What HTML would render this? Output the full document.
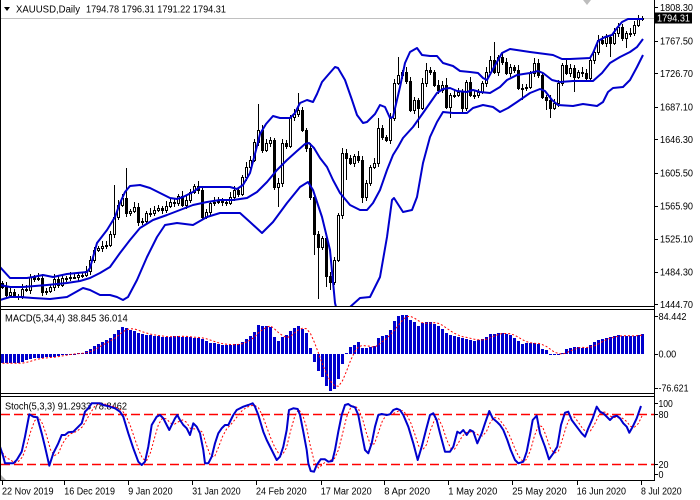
<!DOCTYPE html>
<html><head><meta charset="utf-8">
<style>
html,body{margin:0;padding:0;background:#fff;width:700px;height:500px;overflow:hidden}
svg{display:block}
text{font-family:"Liberation Sans",sans-serif;font-size:10px;fill:#000}
</style></head><body>
<svg id="c" width="700" height="500" viewBox="0 0 700 500" xmlns="http://www.w3.org/2000/svg">
<defs>
<clipPath id="cm"><rect x="1" y="0" width="653" height="306"/></clipPath>
<clipPath id="cd"><rect x="1" y="310" width="653" height="83"/></clipPath>
<clipPath id="cs"><rect x="1" y="397" width="653" height="83"/></clipPath>
</defs>
<rect x="0" y="0" width="700" height="500" fill="#fff"/>
<line x1="1" y1="18.5" x2="654" y2="18.5" stroke="#c0c0c0" stroke-width="1"/>
<polygon points="583,0 591,0 587,5" fill="#bdbdbd"/>
<polygon points="4,7 10,7 7,11" fill="#000"/>
<text x="16" y="12.5" textLength="64" lengthAdjust="spacingAndGlyphs">XAUUSD,Daily</text>
<text x="86" y="12.5" textLength="140" lengthAdjust="spacingAndGlyphs">1794.78 1796.31 1791.22 1794.31</text>
<text x="5" y="321.7" textLength="122.7" lengthAdjust="spacingAndGlyphs">MACD(5,34,4) 38.845 36.014</text>
<text x="5" y="409.3" textLength="122" lengthAdjust="spacingAndGlyphs">Stoch(5,3,3) 91.2933 78.8462</text>
<g stroke="#000" stroke-width="1" shape-rendering="crispEdges">
<line x1="0.5" y1="0" x2="0.5" y2="481"/>
<line x1="654.5" y1="0" x2="654.5" y2="481"/>
<line x1="0" y1="306.5" x2="655" y2="306.5"/>
<line x1="0" y1="309.5" x2="655" y2="309.5"/>
<line x1="0" y1="393.5" x2="655" y2="393.5"/>
<line x1="0" y1="396.5" x2="655" y2="396.5"/>
<line x1="0" y1="480.5" x2="655" y2="480.5"/>
</g>
<polygon points="1,475 1,480 6,480" fill="#b0b0b0"/>
<g stroke="#ff0000" stroke-width="1.4" stroke-dasharray="9,4" fill="none">
<line x1="1" y1="414.5" x2="654" y2="414.5"/>
<line x1="1" y1="464.5" x2="654" y2="464.5"/>
</g>
<g id="axis"></g>
<rect x="655" y="12.5" width="37" height="11" fill="#000"/>
<text x="657" y="21.7" textLength="33" lengthAdjust="spacingAndGlyphs" style="fill:#fff">1794.31</text>
<g id="g"></g>
</svg>
<script>
(function(){
var B='#0000cd';
var out='';
var X=function(i){return 2+4*i;};
var ax='';
var pl=[['1808.30',7.3],['1767.50',40.7],['1726.70',73.3],['1687.10',106.7],['1646.30',139.3],['1605.50',172.7],['1565.90',205.7],['1525.10',239],['1484.30',271.7],['1444.70',304.3]];
pl.forEach(function(p){
 ax+='<line x1="654" y1="'+(Math.round(p[1])+0.5)+'" x2="658" y2="'+(Math.round(p[1])+0.5)+'" stroke="#000"/>';
 ax+='<text x="660" y="'+(p[1]+3.6)+'" textLength="33" lengthAdjust="spacingAndGlyphs">'+p[0]+'</text>';
});
var ml=[['84.442',316.3,28],['0.00',354,17.7],['-76.621',387.7,30]];
ml.forEach(function(p){
 ax+='<line x1="654" y1="'+(Math.round(p[1])+0.5)+'" x2="658" y2="'+(Math.round(p[1])+0.5)+'" stroke="#000"/>';
 ax+='<text x="658.5" y="'+(p[1]+3.6)+'" textLength="'+p[2]+'" lengthAdjust="spacingAndGlyphs">'+p[0]+'</text>';
});
var sl=[['100',403.3,14.3],['80',414.3,10],['20',464.3,10],['0',474.3,5]];
sl.forEach(function(p){
 ax+='<line x1="654" y1="'+(Math.round(p[1])+0.5)+'" x2="658" y2="'+(Math.round(p[1])+0.5)+'" stroke="#000"/>';
 ax+='<text x="658.5" y="'+(p[1]+3.6)+'" textLength="'+p[2]+'" lengthAdjust="spacingAndGlyphs">'+p[0]+'</text>';
});
var tl=[['22 Nov 2019',2,51.6],['16 Dec 2019',64.3,50.7],['9 Jan 2020',128.3,44.3],['31 Jan 2020',192.3,48.3],['24 Feb 2020',256,50.7],['17 Mar 2020',320.7,51],['8 Apr 2020',384.3,45.7],['1 May 2020',448.3,49],['25 May 2020',512.3,54.4],['16 Jun 2020',576.7,49.3],['8 Jul 2020',641,40.7]];
tl.forEach(function(p){
 var tx=Math.round(p[1])+0.5;
 ax+='<line x1="'+tx+'" y1="481" x2="'+tx+'" y2="485" stroke="#000"/>';
 ax+='<text x="'+p[1]+'" y="494.5" textLength="'+p[2]+'" lengthAdjust="spacingAndGlyphs">'+p[0]+'</text>';
});
document.getElementById('axis').innerHTML=ax;

function pts(a){return a.map(function(p){return p[0].toFixed(1)+','+p[1].toFixed(1);}).join(' ');}
function interp(P,x){
 if(x<=P[0][0])return P[0][1];
 for(var k=1;k<P.length;k++){if(x<=P[k][0]){var a=P[k-1],b=P[k];if(b[0]===a[0])return b[1];return a[1]+(b[1]-a[1])*(x-a[0])/(b[0]-a[0]);}}
 return P[P.length-1][1];
}
var C=[287,295,292,296,296,289,290,277,279,278,
292,291,287,279,285,278,278,277,277,275,
275,271,260,250,248,246,245,234,217,205,
198,213,211,207,222,221,213,213,210,208,
210,206,202,203,196,205,200,192,186,190,
217,212,203,202,201,202,203,197,190,194,
177,167,160,142,130,150,143,140,187,183,
143,146,117,114,110,130,148,197,234,247,
238,276,282,260,215,153,158,163,156,160,
197,183,167,163,128,137,140,118,83,75,
72,81,110,100,108,83,70,72,85,90,
85,107,95,95,92,108,82,95,95,92,
83,72,60,72,57,62,73,67,70,88,
88,87,73,63,75,97,100,108,103,83,
65,73,68,77,72,73,78,60,52,40,
43,37,43,33,27,38,33,33,25,18,
18];
var H={28:185,31:168,64:104,74:93,94:118,99:57,106:63,111:78,123:42,159:15,160:16};
var L={69:207,78:255,79:299,81:287,82:290,86:180,90:203,104:128,112:118,130:100,136:110,137:118,143:92,152:57,156:48,160:21};
var cs='';
for(var i=0;i<C.length;i++){
 var o=(i===0)?283:C[i-1];
 var c=C[i];
 var top=Math.round(Math.min(o,c)), bot=Math.round(Math.max(o,c));
 var h=(H[i]!==undefined)?H[i]:top-2-((i*7)%4);
 var l=(L[i]!==undefined)?L[i]:bot+2+((i*5)%3);
 var x=X(i);
 cs+='<line x1="'+(x+0.5)+'" y1="'+h+'" x2="'+(x+0.5)+'" y2="'+l+'"/>';
 var hh=Math.max(bot-top,1);
 var fill=(c<o)?'#fff':'#000';
 cs+='<rect x="'+(x-0.5)+'" y="'+(top+0.5)+'" width="2" height="'+hh+'" fill="'+fill+'"/>';
}
out+='<g clip-path="url(#cm)" stroke="#000" stroke-width="1" shape-rendering="crispEdges">'+cs+'</g>';

var UP=[[0,267],[10,278],[27,278],[33,277],[43,275],[53,277],[67,274],[87,272],[90,268],[97,243],[107,230],[115,217],[120,203],[125,192],[130,186],[140,185],[150,188],[160,193],[170,198],[177,199],[183,197],[193,192],[200,187],[217,187],[230,187],[237,189],[243,185],[250,173],[256,150],[260,134],[266,124],[273,116],[280,118],[290,118],[295,113],[300,103],[307,100],[313,102],[317,94],[322,82],[328,75],[335,67],[338,68],[345,80],[352,100],[357,115],[363,123],[367,122],[375,114],[380,105],[385,107],[390,118],[393,117],[400,87],[405,63],[410,52],[417,48],[422,55],[430,56],[437,56],[443,63],[453,66],[460,71],[470,72],[478,73],[483,78],[487,80],[493,69],[502,53],[510,49],[530,52],[553,55],[562,59],[570,59],[590,58],[593,53],[598,41],[605,37],[612,35],[617,28],[622,22],[628,19],[643,19]];
var MID=[[0,285],[10,287],[23,287],[47,285],[67,283],[80,281],[90,278],[100,273],[110,267],[120,253],[130,240],[140,228],[153,220],[167,215],[180,210],[193,205],[207,202],[220,200],[233,200],[247,198],[257,192],[267,182],[277,170],[287,160],[297,151],[305,144],[309,143],[314,148],[320,158],[327,167],[333,180],[340,193],[350,205],[360,210],[367,210],[373,203],[380,190],[387,170],[393,155],[398,147],[403,138],[413,127],[423,113],[430,103],[437,93],[443,89],[450,88],[457,91],[467,92],[473,90],[480,92],[490,93],[500,87],[507,80],[517,75],[530,73],[538,71],[543,73],[552,80],[560,82],[573,81],[593,81],[602,73],[610,63],[620,57],[630,52],[637,47],[643,39]];
var LO=[[0,300],[10,297],[20,297],[33,298],[50,299],[67,297],[83,288],[90,290],[100,295],[110,295],[117,297],[123,300],[128,297],[137,280],[147,257],[157,237],[165,225],[177,223],[193,225],[207,217],[220,213],[240,213],[250,222],[262,233],[273,222],[287,203],[300,187],[308,182],[313,190],[322,217],[330,250],[335,303],[342,330],[350,307],[360,298],[370,297],[380,277],[387,237],[392,200],[394,198],[403,212],[412,210],[417,197],[423,163],[430,137],[437,122],[443,112],[453,113],[467,113],[473,108],[483,105],[493,107],[500,112],[508,108],[517,102],[530,93],[540,89],[545,91],[552,100],[558,105],[573,106],[583,104],[597,106],[603,102],[608,92],[613,88],[623,87],[630,80],[637,67],[643,55]];
out+='<g clip-path="url(#cm)" fill="none" stroke="'+B+'" stroke-width="2" stroke-linejoin="round">';
out+='<polyline points="'+pts(UP)+'"/><polyline points="'+pts(MID)+'"/><polyline points="'+pts(LO)+'"/></g>';

var M5=[[5,190],[30,190],[60,190],[80,180],[100,175],[130,173],[160,170],[180,165],[200,162],[230,160],[250,158],[265,150],[280,140],[290,133],[305,125],[320,120],[335,110],[350,92],[362,82],[375,82],[390,90],[400,92],[420,100],[440,105],[470,108],[500,112],[530,107],[560,112],[600,113],[620,125],[640,130],[660,133],[680,135],[700,133],[720,130],[735,118],[745,110],[760,100],[772,75],[785,78],[800,78],[812,80],[820,108],[832,125],[845,113],[860,105],[868,95],[880,85],[892,75],[905,85],[918,98],[928,135],[940,180],[952,210],[963,225],[975,252],[987,272],[1000,272],[1012,245],[1025,195],[1035,162],[1048,145]];
var M6=[[0,140],[12,135],[24,126],[35,145],[48,145],[60,140],[72,138],[84,113],[96,107],[108,105],[120,90],[130,65],[142,47],[154,45],[166,42],[178,60],[190,65],[202,78],[214,70],[226,65],[238,65],[250,70],[262,78],[274,85],[286,98],[298,105],[310,107],[322,110],[334,115],[346,115],[358,118],[370,122],[382,122],[394,118],[406,113],[418,102],[430,102],[442,100],[454,97],[466,102],[478,105],[490,113],[502,122],[514,132],[526,130],[538,128],[550,130],[562,130],[574,145],[586,148],[598,163],[610,167],[622,162],[634,160],[646,148],[658,143],[670,142],[682,142],[694,142],[706,145],[718,138],[730,128],[742,120],[754,117],[766,113],[778,110],[790,107],[802,105],[814,108],[826,108],[838,108],[850,107],[862,105],[874,102]];
var MP=M5.map(function(p){return [p[0]/3,300+p[1]/3];}).concat(M6.map(function(p){return [350+p[0]/3,300+p[1]/3];}));
var Z=354, mv=[], mb='';
for(var i=0;i<161;i++){
 var x=X(i); var y=interp(MP,x); mv.push(y);
 var t=Math.round(Math.min(y,Z)), b=Math.round(Math.max(y,Z));
 if(b-t<1){b=t+1;}
 mb+='<rect x="'+(x-1)+'" y="'+t+'" width="3" height="'+(b-t)+'"/>';
}
out+='<g clip-path="url(#cd)" fill="'+B+'" shape-rendering="crispEdges">'+mb+'</g>';
var ms=[];
for(var i=0;i<161;i++){var s=0,n=0;for(var k=Math.max(0,i-3);k<=i;k++){s+=mv[k];n++;}ms.push([X(i)+0.5,s/n]);}
out+='<polyline clip-path="url(#cd)" points="'+pts(ms)+'" fill="none" stroke="#ff0000" stroke-width="1" stroke-dasharray="2,2"/>';

var S5=[[0,440],[10,470],[15,490],[40,490],[50,480],[65,455],[75,410],[88,343],[100,350],[112,352],[125,400],[135,440],[148,497],[160,460],[175,430],[185,405],[195,405],[205,397],[220,395],[235,380],[245,370],[255,335],[265,325],[275,310],[300,310],[310,315],[330,320],[345,325],[360,335],[370,350],[385,400],[400,445],[415,485],[425,495],[435,485],[445,440],[455,375],[470,350],[480,345],[490,355],[500,375],[508,390],[515,375],[525,355],[532,345],[540,360],[550,375],[560,385],[570,405],[580,370],[590,380],[600,400],[610,450],[615,490],[625,490],[635,470],[645,430],[655,400],[665,385],[675,375],[685,375],[700,345],[710,330],[730,320],[745,315],[758,310],[765,320],[775,345],[790,395],[800,420],[815,450],[830,480],[840,470],[850,440],[860,390],[867,330],[880,325],[893,327],[900,345],[910,395],[920,450],[925,490],[932,513],[942,515],[950,495],[962,478],[975,478],[985,485],[997,483],[1005,450],[1015,395],[1025,345],[1035,315],[1045,312],[1050,316]];
var S6=[[3,318],[15,322],[25,345],[35,400],[45,450],[55,460],[65,430],[75,380],[85,345],[95,342],[110,345],[120,343],[130,330],[140,326],[150,330],[160,345],[175,380],[190,430],[203,480],[215,440],[228,390],[240,345],[250,340],[260,360],[270,400],[285,455],[300,455],[310,440],[322,395],[330,400],[340,390],[350,405],[360,390],[370,395],[382,430],[395,400],[405,370],[418,333],[428,355],[440,365],[450,375],[460,390],[472,420],[482,450],[495,480],[505,490],[520,485],[530,455],[540,405],[548,360],[560,347],[570,400],[585,440],[597,478],[610,460],[622,440],[633,375],[645,338],[655,335],[665,360],[680,380],[695,400],[705,410],[715,385],[728,355],[740,320],[750,335],[760,340],[770,350],[780,360],[790,350],[800,347],[810,355],[820,370],[830,380],[838,398],[848,380],[860,355],[873,318]];
var SP=S5.map(function(p){return [p[0]/3,300+p[1]/3];}).concat(S6.map(function(p){return [350+p[0]/3,300+p[1]/3];}));
var sv=[];
for(var i=0;i<161;i++){sv.push(interp(SP,X(i)));}
var ss=[];
for(var i=0;i<161;i++){var s=0,n=0;for(var k=Math.max(0,i-2);k<=i;k++){s+=sv[k];n++;}ss.push([X(i)+0.5,s/n]);}
out+='<polyline clip-path="url(#cs)" points="'+pts(ss)+'" fill="none" stroke="#ff0000" stroke-width="1" stroke-dasharray="2,2"/>';
out+='<polyline clip-path="url(#cs)" points="'+pts(SP)+'" fill="none" stroke="'+B+'" stroke-width="2" stroke-linejoin="round"/>';

document.getElementById('g').innerHTML=out;
})();
</script>
</body></html>
